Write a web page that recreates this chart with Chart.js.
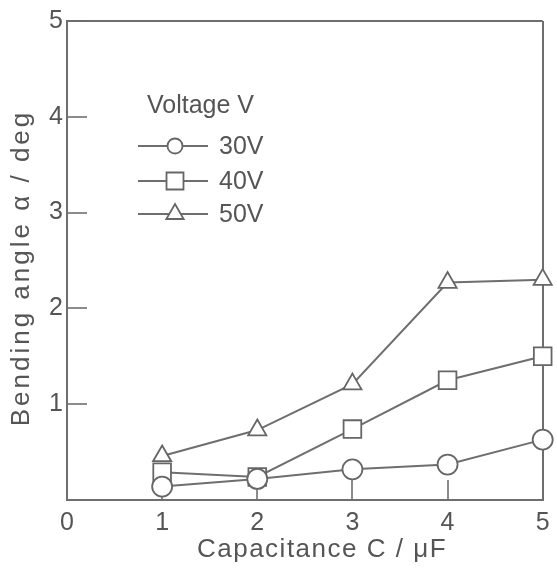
<!DOCTYPE html>
<html>
<head>
<meta charset="utf-8">
<script src="https://cdn.jsdelivr.net/npm/chart.js@4/dist/chart.umd.min.js"></script>
<style>
  html, body { margin: 0; padding: 0; background: #fff; }
  #wrap { width: 557px; height: 568px; }
</style>
</head>
<body>
<div id="wrap"><canvas id="bendChart"></canvas></div>
<script>
// capacitance (uF) on x, bending angle (deg) per applied voltage
const capacitance = [1, 2, 3, 4, 5];
const angle30V = [0.14, 0.22, 0.32, 0.37, 0.63];
const angle40V = [0.29, 0.24, 0.74, 1.25, 1.50];
const angle50V = [0.46, 0.73, 1.21, 2.27, 2.30];
const seriesLabels = ['30V', '40V', '50V'];
const xTickValues = [0, 1, 2, 3, 4, 5];
const yTickValues = [1, 2, 3, 4, 5];

const ink = '#555';
const lineInk = '#6e6e6e';
const FONT = '"Liberation Sans", Arial, sans-serif';

function toPoints(ys) {
    return capacitance.map((c, i) => ({ x: c, y: ys[i] }));
}

function series(label, ys, style, radius, legendRadius) {
    return {
        label: label,
        data: toPoints(ys),
        borderColor: lineInk,
        borderWidth: 2,
        pointStyle: style,
        pointRadius: radius,
        pointHoverRadius: radius,
        pointBackgroundColor: '#fff',
        pointBorderColor: '#666',
        pointBorderWidth: 1.8,
        legendRadius: legendRadius,
        clip: false,
        tension: 0
    };
}

// legend in the upper-left with line-through-marker samples
const voltageLegend = {
    id: 'voltageLegend',
    afterDatasetsDraw(chart) {
        const ctx = chart.ctx;
        ctx.save();
        ctx.fillStyle = ink;
        ctx.font = '25px ' + FONT;
        ctx.textBaseline = 'middle';
        ctx.textAlign = 'left';
        ctx.fillText('Voltage V', 147, 106);

        const rows = [146, 181, 214];
        chart.data.datasets.forEach((ds, i) => {
            const y = rows[i];
            ctx.strokeStyle = lineInk;
            ctx.lineWidth = 2;
            ctx.beginPath();
            ctx.moveTo(138, y);
            ctx.lineTo(208, y);
            ctx.stroke();

            ctx.fillStyle = '#fff';
            ctx.strokeStyle = '#666';
            ctx.lineWidth = 1.8;
            Chart.helpers.drawPoint(ctx, {
                pointStyle: ds.pointStyle,
                radius: ds.legendRadius,
                rotation: 0,
                borderWidth: 1.8
            }, 175, y);

            ctx.fillStyle = ink;
            ctx.fillText(ds.label, 219, y + 1);
        });
        ctx.restore();
    }
};

// axis titles, drawn with a little extra tracking
const axisTitles = {
    id: 'axisTitles',
    afterDraw(chart) {
        const ctx = chart.ctx;
        ctx.save();
        ctx.fillStyle = ink;
        ctx.textAlign = 'center';
        ctx.textBaseline = 'middle';

        ctx.font = '26px ' + FONT;
        ctx.letterSpacing = '1.5px';
        ctx.fillText('Capacitance C / \u03bcF', 322, 550);

        ctx.letterSpacing = '3px';
        ctx.translate(22, 268);
        ctx.rotate(-Math.PI / 2);
        ctx.fillText('Bending angle \u03b1 / deg', 0, 0);
        ctx.restore();
    }
};

// only the value-5 grid line is kept, closing the frame on top and right
function frameLine(ctx) {
    return ctx.tick && ctx.tick.value === 5 ? lineInk : 'rgba(0,0,0,0)';
}

new Chart(document.getElementById('bendChart').getContext('2d'), {
    type: 'line',
    data: {
        datasets: [
            series(seriesLabels[0], angle30V, 'circle', 10, 7.5),
            series(seriesLabels[1], angle40V, 'rect', 12.5, 12),
            series(seriesLabels[2], angle50V, 'triangle', 10.5, 10)
        ]
    },
    options: {
        responsive: true,
        maintainAspectRatio: false,
        animation: false,
        events: [],
        layout: { padding: { top: 21, right: 9, left: 0, bottom: 0 } },
        plugins: {
            legend: { display: false },
            tooltip: { enabled: false }
        },
        scales: {
            x: {
                type: 'linear',
                min: 0,
                max: 5,
                afterBuildTicks: scale => {
                    scale.ticks = xTickValues.map(v => ({ value: v }));
                },
                afterFit: scale => {
                    scale.height = 68;
                    scale.paddingLeft = 0;
                    scale.paddingRight = 0;
                },
                border: { color: lineInk, width: 2 },
                grid: {
                    color: frameLine,
                    lineWidth: 2,
                    tickColor: lineInk,
                    tickLength: -20,
                    tickWidth: 1.6
                },
                ticks: {
                    color: ink,
                    padding: 28,
                    maxRotation: 0,
                    font: { family: FONT, size: 25 }
                }
            },
            y: {
                min: 0,
                max: 5,
                afterBuildTicks: scale => {
                    scale.ticks = yTickValues.map(v => ({ value: v }));
                },
                afterFit: scale => {
                    scale.width = 67;
                    scale.paddingTop = 0;
                    scale.paddingBottom = 0;
                },
                border: { color: lineInk, width: 2 },
                grid: {
                    color: frameLine,
                    lineWidth: 2,
                    tickColor: lineInk,
                    tickLength: -20,
                    tickWidth: 1.6
                },
                ticks: {
                    color: ink,
                    padding: 24,
                    font: { family: FONT, size: 25 }
                }
            }
        }
    },
    plugins: [voltageLegend, axisTitles]
});
</script>
</body>
</html>
